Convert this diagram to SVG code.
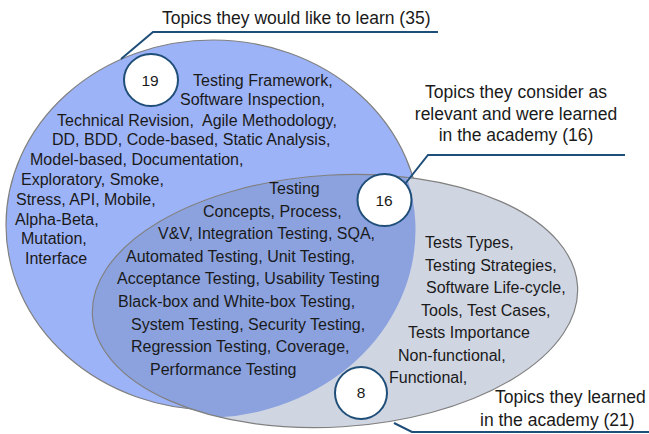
<svg xmlns="http://www.w3.org/2000/svg" width="649" height="434" viewBox="0 0 649 434">
<style>
text{font-family:"Liberation Sans",Arial,sans-serif;fill:#1a1a1a;white-space:pre}
.t{font-size:16px}
.c{font-size:17.5px}
.n{font-size:15.5px;text-anchor:middle}
.badge{fill:#ffffff;stroke:#1f4e79;stroke-width:2}
.edge{fill:none;stroke:#808080;stroke-width:1.2}
.conn{fill:none;stroke:#1f4e79;stroke-width:2}
</style>
<defs>
<clipPath id="clipBlue"><ellipse cx="213" cy="225" rx="207" ry="185"/></clipPath>
</defs>
<g id="set-would-like">
<ellipse cx="213" cy="225" rx="207" ry="185" fill="#9db3f7" stroke="#808080" stroke-width="1.2"/>
</g>
<g id="set-learned">
<ellipse cx="335" cy="301" rx="243" ry="126" transform="rotate(-3.5 335 301)" fill="#d0d5e2"/>
</g>
<g id="set-intersection">
<ellipse cx="335" cy="301" rx="243" ry="126" transform="rotate(-3.5 335 301)" fill="#8ba2df" clip-path="url(#clipBlue)"/>
<ellipse class="edge" cx="335" cy="301" rx="243" ry="126" transform="rotate(-3.5 335 301)"/>
</g>
<g id="connectors">
<polyline class="conn" points="121,59 153,32 438,32"/>
<polyline class="conn" points="405,184 428,155 625,155"/>
<polyline class="conn" points="394,423 412,432 649,432"/>
</g>
<g id="label-would-like">
<text class="c" x="162" y="24">Topics they would like to learn (35)</text>
</g>
<g id="label-relevant" text-anchor="middle">
<text class="c" x="516" y="98">Topics they consider as</text>
<text class="c" x="516" y="120">relevant and were learned</text>
<text class="c" x="516" y="141">in the academy (16)</text>
</g>
<g id="label-learned">
<text class="c" x="495" y="403">Topics they learned</text>
<text class="c" x="480" y="426">in the academy (21)</text>
</g>
<g id="badge-19">
<ellipse class="badge" cx="151" cy="80" rx="27" ry="26"/>
<text class="n" x="150" y="86">19</text>
</g>
<g id="badge-16">
<ellipse class="badge" cx="384.5" cy="200" rx="27" ry="26"/>
<text class="n" x="384" y="206">16</text>
</g>
<g id="badge-8">
<ellipse class="badge" cx="361" cy="393" rx="26" ry="26"/>
<text class="n" x="361" y="398">8</text>
</g>
<g id="topics-would-like">
<text class="t" x="193" y="86">Testing Framework,</text>
<text class="t" x="180" y="105">Software Inspection,</text>
<text class="t" x="57" y="126">Technical Revision,  Agile Methodology,</text>
<text class="t" x="52" y="145">DD, BDD, Code-based, Static Analysis,</text>
<text class="t" x="30" y="165">Model-based, Documentation,</text>
<text class="t" x="21" y="185">Exploratory, Smoke,</text>
<text class="t" x="16" y="205">Stress, API, Mobile,</text>
<text class="t" x="15" y="225">Alpha-Beta,</text>
<text class="t" x="21" y="244">Mutation,</text>
<text class="t" x="25" y="264">Interface</text>
</g>
<g id="topics-relevant">
<text class="t" x="269" y="194">Testing</text>
<text class="t" x="203" y="217">Concepts, Process,</text>
<text class="t" x="158" y="239">V&amp;V, Integration Testing, SQA,</text>
<text class="t" x="126" y="262">Automated Testing, Unit Testing,</text>
<text class="t" x="117" y="284">Acceptance Testing, Usability Testing</text>
<text class="t" x="118" y="307">Black-box and White-box Testing,</text>
<text class="t" x="131" y="330">System Testing, Security Testing,</text>
<text class="t" x="131" y="352">Regression Testing, Coverage,</text>
<text class="t" x="150" y="375">Performance Testing</text>
</g>
<g id="topics-learned">
<text class="t" x="425" y="248">Tests Types,</text>
<text class="t" x="425" y="271">Testing Strategies,</text>
<text class="t" x="426" y="293">Software Life-cycle,</text>
<text class="t" x="421" y="316">Tools, Test Cases,</text>
<text class="t" x="408" y="338">Tests Importance</text>
<text class="t" x="398" y="361">Non-functional,</text>
<text class="t" x="389" y="383">Functional,</text>
</g>
</svg>
